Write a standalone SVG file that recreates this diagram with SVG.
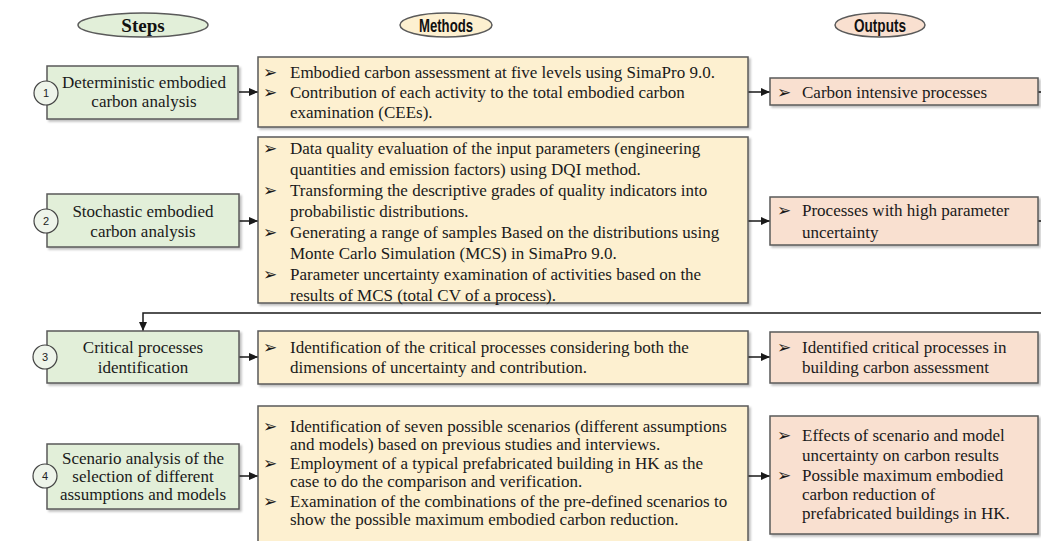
<svg xmlns="http://www.w3.org/2000/svg" width="1041" height="541" viewBox="0 0 1041 541">
<style>
.t{font-family:"Liberation Serif","Times New Roman",serif;font-size:17px;fill:#1a1a1a}
.c{text-anchor:middle}
.b{font-family:"DejaVu Sans",sans-serif;font-size:17px;fill:#1a1a1a;text-anchor:middle}
.step{fill:#e2efd9;stroke:#5a5a5a;stroke-width:1.5}
.meth{fill:#fdf0d0;stroke:#5a5a5a;stroke-width:1.5}
.out{fill:#f9e0d0;stroke:#5a5a5a;stroke-width:1.5}
.num{fill:#eef4ea;stroke:#444;stroke-width:1.2}
.nt{font-family:"Liberation Sans",Arial,sans-serif;font-size:11px;fill:#222;text-anchor:middle}
.ln{fill:none;stroke:#1a1a1a;stroke-width:1.5}
.h{font-weight:bold;font-size:19px;fill:#111;text-anchor:middle}
.hs{font-family:"Liberation Serif","Times New Roman",serif}
.hn{font-family:"Liberation Sans Narrow","Liberation Sans",sans-serif}
</style>
<defs>
<filter id="sh" x="-5%" y="-5%" width="110%" height="120%">
<feDropShadow dx="2" dy="2" stdDeviation="1" flood-color="#000" flood-opacity="0.25"/>
</filter>
<marker id="ar" markerWidth="10" markerHeight="10" refX="9" refY="5" orient="auto" markerUnits="userSpaceOnUse">
<path d="M0,1 L9,5 L0,9 Z" fill="#1a1a1a"/>
</marker>
</defs>

<g id="headers">
<g id="h-steps"><ellipse cx="143" cy="25" rx="65" ry="12" class="step"/><text x="143" y="32" class="h hs">Steps</text></g>
<g id="h-methods"><ellipse cx="446" cy="25" rx="46" ry="12" class="meth"/><text x="446" y="32" class="h hn" textLength="54" lengthAdjust="spacingAndGlyphs">Methods</text></g>
<g id="h-outputs"><ellipse cx="880" cy="25" rx="45" ry="12" class="out"/><text x="880" y="32" class="h hn" textLength="52" lengthAdjust="spacingAndGlyphs">Outputs</text></g>
</g>

<g id="connectors">
<line x1="239" y1="92" x2="258" y2="92" class="ln" marker-end="url(#ar)"/>
<line x1="239" y1="221" x2="258" y2="221" class="ln" marker-end="url(#ar)"/>
<line x1="239" y1="357" x2="258" y2="357" class="ln" marker-end="url(#ar)"/>
<line x1="239" y1="476" x2="258" y2="476" class="ln" marker-end="url(#ar)"/>
<line x1="748" y1="92" x2="770" y2="92" class="ln" marker-end="url(#ar)"/>
<line x1="748" y1="221" x2="770" y2="221" class="ln" marker-end="url(#ar)"/>
<line x1="748" y1="357" x2="770" y2="357" class="ln" marker-end="url(#ar)"/>
<line x1="748" y1="476" x2="770" y2="476" class="ln" marker-end="url(#ar)"/>
<line x1="1038" y1="92" x2="1041" y2="92" class="ln"/>
<line x1="1038" y1="221" x2="1041" y2="221" class="ln"/>
<polyline points="1041,313 143,313 143,331" class="ln" marker-end="url(#ar)"/>
</g>

<g id="step1">
<rect x="47" y="66" width="191" height="53" class="step" filter="url(#sh)"/>
<circle cx="46" cy="93" r="12" class="num"/><text x="46" y="97" class="nt">1</text>
<text class="t c" x="144" y="88">Deterministic embodied</text>
<text class="t c" x="144" y="107">carbon analysis</text>
</g>
<g id="step2">
<rect x="47" y="194" width="192" height="53" class="step" filter="url(#sh)"/>
<circle cx="46" cy="221" r="12" class="num"/><text x="46" y="225" class="nt">2</text>
<text class="t c" x="143" y="217">Stochastic embodied</text>
<text class="t c" x="143" y="237">carbon analysis</text>
</g>
<g id="step3">
<rect x="47" y="331" width="192" height="52" class="step" filter="url(#sh)"/>
<circle cx="45" cy="357" r="12" class="num"/><text x="45" y="361" class="nt">3</text>
<text class="t c" x="143" y="353">Critical processes</text>
<text class="t c" x="143" y="373">identification</text>
</g>
<g id="step4">
<rect x="47" y="444" width="192" height="65" class="step" filter="url(#sh)"/>
<circle cx="45" cy="476" r="12" class="num"/><text x="45" y="480" class="nt">4</text>
<text class="t c" x="143" y="464">Scenario analysis of the</text>
<text class="t c" x="143" y="482">selection of different</text>
<text class="t c" x="143" y="500">assumptions and models</text>
</g>

<g id="method1">
<rect x="258" y="57" width="490" height="70" class="meth" filter="url(#sh)"/>
<text class="b" x="270" y="78">➢</text><text class="t" x="290" y="78">Embodied carbon assessment at five levels using SimaPro 9.0.</text>
<text class="b" x="270" y="98">➢</text><text class="t" x="290" y="98">Contribution of each activity to the total embodied carbon</text>
<text class="t" x="290" y="118">examination (CEEs).</text>
</g>
<g id="method2">
<rect x="258" y="137" width="490" height="166" class="meth" filter="url(#sh)"/>
<text class="b" x="270" y="154">➢</text><text class="t" x="290" y="154">Data quality evaluation of the input parameters (engineering</text>
<text class="t" x="290" y="175">quantities and emission factors) using DQI method.</text>
<text class="b" x="270" y="196">➢</text><text class="t" x="290" y="196">Transforming the descriptive grades of quality indicators into</text>
<text class="t" x="290" y="217">probabilistic distributions.</text>
<text class="b" x="270" y="238">➢</text><text class="t" x="290" y="238">Generating a range of samples Based on the distributions using</text>
<text class="t" x="290" y="259">Monte Carlo Simulation (MCS) in SimaPro 9.0.</text>
<text class="b" x="270" y="280">➢</text><text class="t" x="290" y="280">Parameter uncertainty examination of activities based on the</text>
<text class="t" x="290" y="301">results of MCS (total CV of a process).</text>
</g>
<g id="method3">
<rect x="258" y="331" width="490" height="53" class="meth" filter="url(#sh)"/>
<text class="b" x="270" y="353">➢</text><text class="t" x="290" y="353">Identification of the critical processes considering both the</text>
<text class="t" x="290" y="373">dimensions of uncertainty and contribution.</text>
</g>
<g id="method4">
<rect x="258" y="406" width="490" height="145" class="meth" filter="url(#sh)"/>
<text class="b" x="270" y="432">➢</text><text class="t" x="290" y="432">Identification of seven possible scenarios (different assumptions</text>
<text class="t" x="290" y="450">and models) based on previous studies and interviews.</text>
<text class="b" x="270" y="469">➢</text><text class="t" x="290" y="469">Employment of a typical prefabricated building in HK as the</text>
<text class="t" x="290" y="487">case to do the comparison and verification.</text>
<text class="b" x="270" y="507">➢</text><text class="t" x="290" y="507">Examination of the combinations of the pre-defined scenarios to</text>
<text class="t" x="290" y="525">show the possible maximum embodied carbon reduction.</text>
</g>

<g id="output1">
<rect x="770" y="78" width="268" height="27" class="out" filter="url(#sh)"/>
<text class="b" x="784" y="98">➢</text><text class="t" x="802" y="98">Carbon intensive processes</text>
</g>
<g id="output2">
<rect x="770" y="197" width="268" height="48" class="out" filter="url(#sh)"/>
<text class="b" x="784" y="216">➢</text><text class="t" x="802" y="216">Processes with high parameter</text>
<text class="t" x="802" y="238">uncertainty</text>
</g>
<g id="output3">
<rect x="770" y="332" width="268" height="51" class="out" filter="url(#sh)"/>
<text class="b" x="784" y="353">➢</text><text class="t" x="802" y="353">Identified critical processes in</text>
<text class="t" x="802" y="373">building carbon assessment</text>
</g>
<g id="output4">
<rect x="770" y="416" width="268" height="118" class="out" filter="url(#sh)"/>
<text class="b" x="784" y="441">➢</text><text class="t" x="802" y="441">Effects of scenario and model</text>
<text class="t" x="802" y="461">uncertainty on carbon results</text>
<text class="b" x="784" y="481">➢</text><text class="t" x="802" y="481">Possible maximum embodied</text>
<text class="t" x="802" y="500">carbon reduction of</text>
<text class="t" x="802" y="519">prefabricated buildings in HK.</text>
</g>
</svg>
